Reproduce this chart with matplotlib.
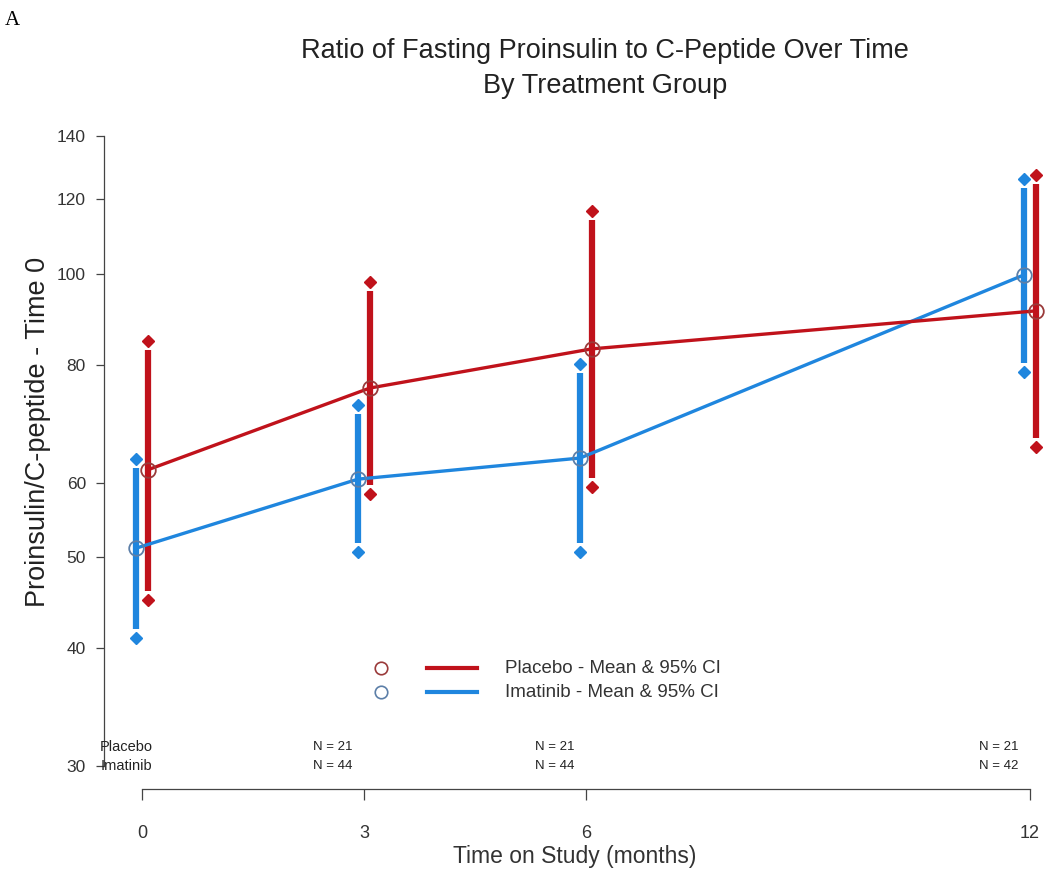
import matplotlib
import matplotlib.pyplot as plt
from matplotlib.ticker import FixedLocator, NullLocator

RED = "#c0121b"
BLUE = "#1f86de"

months = [0, 3, 6, 12]

placebo_mean = [61.9, 75.6, 83.2, 91.3]
placebo_lo = [45.0, 58.3, 59.3, 65.4]
placebo_hi = [84.8, 98.0, 116.6, 127.3]

imatinib_mean = [51.1, 60.5, 63.7, 99.7]
imatinib_lo = [41.0, 50.6, 50.6, 78.6]
imatinib_hi = [63.6, 72.5, 80.2, 126.1]

n_placebo = [21, 21, 21, 21]
n_imatinib = [None, 44, 44, 42]

y_ticks = [30, 40, 50, 60, 80, 100, 120, 140]

matplotlib.rcParams["font.family"] = ["Liberation Sans", "DejaVu Sans"]

fig = plt.figure(figsize=(10.5, 8.82), dpi=100)
ax = fig.add_axes([0.099, 0.1054, 0.896, 0.7472])
ax.set_yscale("log")
ax.set_xlim(-0.514, 12.2)
ax.set_ylim(28.35, 142.1)

shift = 0.08
gap = 1.022


def draw_group(means, lo, hi, color, edge, dx):
    xs = [m + dx for m in months]
    ax.plot(xs, means, color=color, lw=2.4, zorder=3, solid_capstyle="butt")
    for x, m, l, h in zip(xs, means, lo, hi):
        ax.plot([x, x], [l * gap, h / gap], color=color, lw=4.5, zorder=2,
                solid_capstyle="butt")
        ax.plot([x, x], [l, h], ls="none", marker="D", ms=6.5, color=color,
                mec=color, zorder=4)
    ax.plot(xs, means, ls="none", marker="o", ms=10.5, mfc="none", mec=edge,
            mew=1.3, zorder=5)


draw_group(imatinib_mean, imatinib_lo, imatinib_hi, BLUE, "#5c7fa8", -shift)
draw_group(placebo_mean, placebo_lo, placebo_hi, RED, "#9a3a3a", shift)

# spines
for s in ["top", "right"]:
    ax.spines[s].set_visible(False)
ax.spines["left"].set_bounds(30, 140)
ax.spines["bottom"].set_bounds(0, 12)
for s in ["left", "bottom"]:
    ax.spines[s].set_color("#444444")
    ax.spines[s].set_linewidth(0.9)

ax.yaxis.set_major_locator(FixedLocator(y_ticks))
ax.yaxis.set_minor_locator(NullLocator())
ax.set_yticklabels([str(t) for t in y_ticks])
ax.set_xticks(months)
ax.set_xticklabels([str(m) for m in months])
ax.tick_params(axis="y", length=6, width=0.9, color="#444444", pad=7,
               labelsize=12.5, labelcolor="#333333")
ax.tick_params(axis="x", length=8, width=0.9, color="#444444", pad=18,
               labelsize=13, labelcolor="#333333")

# y label sits a bit above the axes centre, as in the original
ax.text(-0.070, 0.542, "Proinsulin/C-peptide - Time 0", transform=ax.transAxes,
        rotation=90, ha="center", va="center", fontsize=19.5, color="#222222")
ax.set_xlabel("Time on Study (months)", fontsize=16.5, color="#333333",
              labelpad=2)

# sample sizes
ax.text(0.14, 31.4, "Placebo", ha="right", va="center", fontsize=10.5,
        color="#222222")
ax.text(0.14, 30.0, "Imatinib", ha="right", va="center", fontsize=10.5,
        color="#222222")
for m, a, b in zip(months, n_placebo, n_imatinib):
    if b is None:
        continue
    ax.text(m - 0.16, 31.4, f"N = {a}", ha="right", va="center", fontsize=9.5,
            color="#222222")
    ax.text(m - 0.16, 30.0, f"N = {b}", ha="right", va="center", fontsize=9.5,
            color="#222222")

# legend
rows = [("Placebo - Mean & 95% CI", RED, "#9a3a3a", 0.1836),
        ("Imatinib - Mean & 95% CI", BLUE, "#5c7fa8", 0.147)]
for label, color, edge, yy in rows:
    ax.plot([0.294], [yy], transform=ax.transAxes, marker="o", ms=9,
            mfc="white", mec=edge, mew=1.2, clip_on=False)
    ax.plot([0.343, 0.397], [yy, yy], transform=ax.transAxes, color=color,
            lw=3, clip_on=False)
    ax.text(0.426, yy, label, transform=ax.transAxes, va="center",
            fontsize=13.5, color="#333333")

fig.text(0.576, 0.942, "Ratio of Fasting Proinsulin to C-Peptide Over Time",
         ha="center", va="center", fontsize=19.5, color="#222222")
fig.text(0.576, 0.903, "By Treatment Group", ha="center", va="center",
         fontsize=19.5, color="#222222")
fig.text(0.005, 0.977, "A", ha="left", va="center", fontsize=15,
         family="Liberation Serif")

fig.savefig("out.png", dpi=100)
